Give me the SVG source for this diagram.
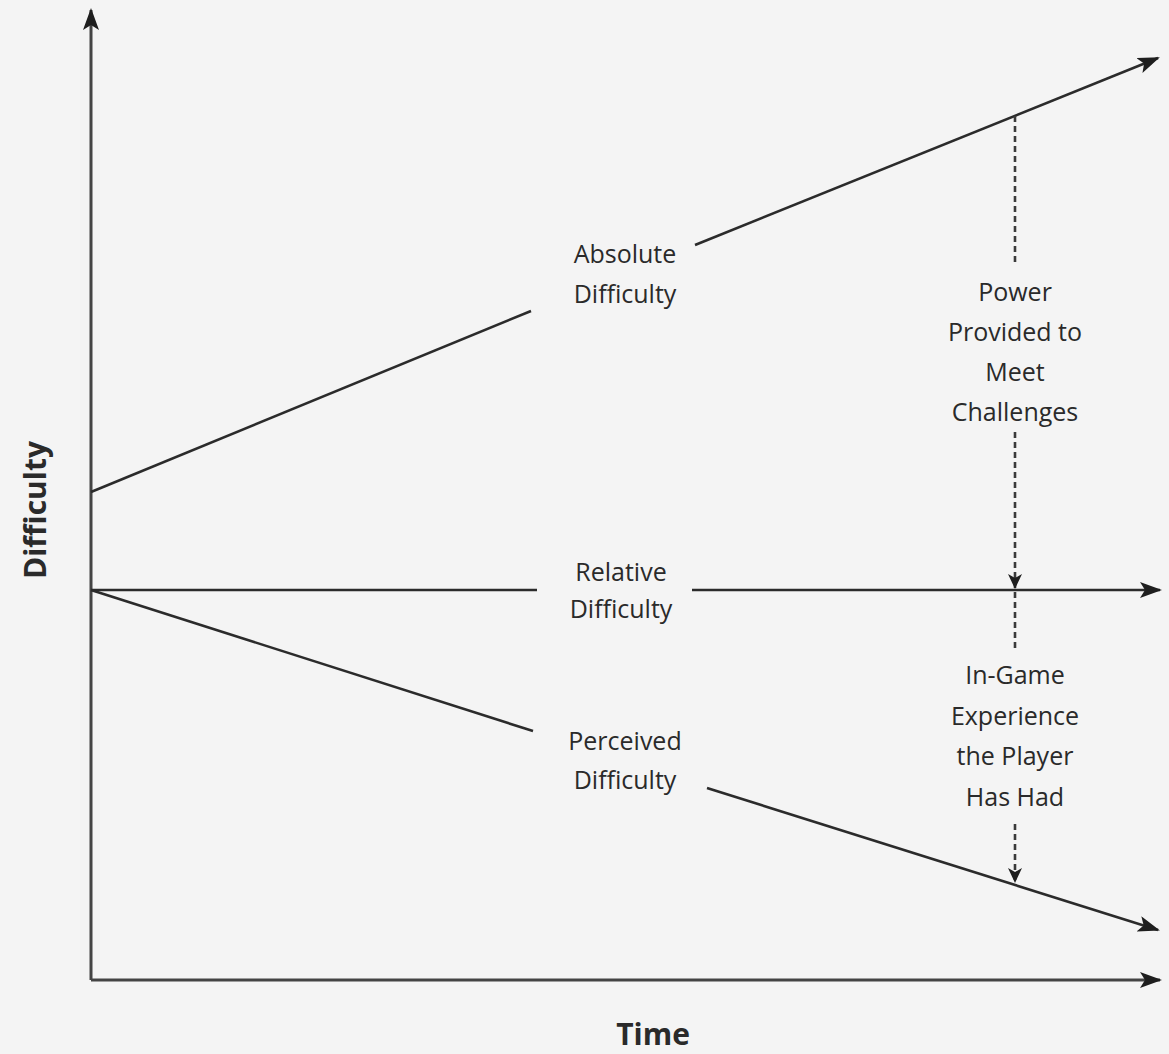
<svg xmlns="http://www.w3.org/2000/svg" width="1169" height="1054" viewBox="0 0 1169 1054">
<style>
.ln{stroke:#2b2b2b;stroke-width:2.6;fill:none}
.ax{stroke:#444;stroke-width:3;fill:none}
.dash{stroke:#3a3a3a;stroke-width:2.6;fill:none;stroke-dasharray:6 4}
.t{font-family:"Open Sans","Liberation Sans",sans-serif;font-size:25px;fill:#2a2a2a;text-anchor:middle}
.tb{font-family:"Open Sans","Liberation Sans",sans-serif;font-size:30px;font-weight:bold;fill:#2a2a2a;text-anchor:middle}
</style>
<defs>
<marker id="ah" markerUnits="userSpaceOnUse" markerWidth="24" markerHeight="18" refX="20" refY="8" orient="auto">
<path d="M0,0 L22,8 L0,16 L5,8 z" fill="#1e1e1e"/>
</marker>
<marker id="sh" markerUnits="userSpaceOnUse" markerWidth="16" markerHeight="16" refX="14" refY="7" orient="auto">
<path d="M0,0 L15,7 L0,14 L4,7 z" fill="#1e1e1e"/>
</marker>
</defs>
<rect width="1169" height="1054" fill="#f4f4f4"/>
<g id="connectors">
<path class="ax" d="M91,980 V10" marker-end="url(#ah)"/>
<path class="ax" d="M91,980 H1160" marker-end="url(#ah)"/>
<path class="ln" d="M91,492 L531,311"/>
<path class="ln" d="M695,245 L1158,58" marker-end="url(#ah)"/>
<path class="ln" d="M91,590 H537"/>
<path class="ln" d="M692,590 H1160" marker-end="url(#ah)"/>
<path class="ln" d="M91,590 L533,731"/>
<path class="ln" d="M707,788 L1158,930" marker-end="url(#ah)"/>
<path class="dash" d="M1015,116 V265"/>
<path class="dash" d="M1015,432 V588" marker-end="url(#sh)"/>
<path class="dash" d="M1015,592 V650"/>
<path class="dash" d="M1015,824 V882" marker-end="url(#sh)"/>
</g>
<g id="axis-y-label"><text class="tb" transform="translate(46,510) rotate(-90)">Difficulty</text></g>
<g id="axis-x-label"><text class="tb" x="653" y="1045">Time</text></g>
<g id="absolute"><text class="t" x="625" y="263">Absolute</text><text class="t" x="625" y="303">Difficulty</text></g>
<g id="relative"><text class="t" x="621" y="581">Relative</text><text class="t" x="621" y="618">Difficulty</text></g>
<g id="perceived"><text class="t" x="625" y="750">Perceived</text><text class="t" x="625" y="789">Difficulty</text></g>
<g id="power"><text class="t" x="1015" y="301">Power</text><text class="t" x="1015" y="341">Provided to</text><text class="t" x="1015" y="381">Meet</text><text class="t" x="1015" y="421">Challenges</text></g>
<g id="experience"><text class="t" x="1015" y="684">In-Game</text><text class="t" x="1015" y="725">Experience</text><text class="t" x="1015" y="765">the Player</text><text class="t" x="1015" y="806">Has Had</text></g>
</svg>
